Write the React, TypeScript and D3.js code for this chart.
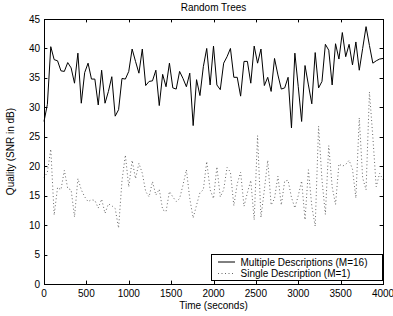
import * as d3 from "d3";

const WIDTH = 393;
const HEIGHT = 316;
const MARGIN = { top: 19, right: 10, bottom: 32, left: 44 };
const FONT = "'Liberation Sans', Arial, Helvetica, sans-serif";

// sample interval in seconds
const STEP = 40;

// Multiple Descriptions (M=16)
const multipleDescriptions = [
  27.6, 30.5, 40.3, 38.1, 37.9, 36.2, 36.1, 37.6, 36.7, 34.1,
  39.2, 30.7, 35.9, 37.5, 34.8, 34.8, 30.4, 36.3, 30.7, 32.7,
  35.2, 28.5, 29.6, 34.9, 34.8, 36.1, 39.9, 37.8, 35.8, 39.9,
  33.7, 34.4, 34.5, 36.3, 30.3, 35.6, 33.5, 37.5, 33.3, 33.1,
  36.1, 34.9, 33.5, 35.8, 26.9, 34.7, 32.0, 36.9, 40.0, 33.8,
  40.4, 33.8, 33.0, 37.5, 38.6, 40.0, 35.1, 35.1, 31.9, 37.8,
  37.8, 34.1, 40.4, 37.5, 39.9, 33.7, 35.1, 32.7, 38.3, 35.5,
  33.1, 33.3, 35.1, 26.5, 39.2, 33.5, 27.6, 37.1, 33.8, 30.6,
  39.3, 33.3, 34.4, 40.7, 39.7, 33.8, 40.8, 38.2, 42.7, 38.6,
  40.7, 37.2, 41.1, 36.3, 40.0, 43.7, 40.5, 37.5, 37.9, 38.2,
  38.3,
];

// Single Description (M=1)
const singleDescription = [
  18.0, 19.0, 22.9, 11.7, 16.4, 16.0, 19.3, 16.2, 16.0, 11.4,
  17.9, 16.0, 14.8, 14.0, 14.3, 14.2, 12.9, 14.4, 12.0, 13.6,
  13.3, 12.8, 9.5, 17.5, 21.9, 16.5, 21.0, 17.9, 20.5, 18.8,
  15.7, 14.8, 17.4, 15.1, 16.1, 12.6, 12.3, 15.7, 14.8, 14.0,
  14.5, 16.8, 19.4, 14.5, 11.2, 13.4, 15.5, 16.0, 20.8, 16.0,
  14.5, 19.9, 14.8, 16.0, 19.8, 19.0, 13.3, 17.0, 19.0, 13.2,
  15.5, 17.6, 10.9, 25.2, 11.3, 16.0, 21.0, 13.4, 14.5, 18.3,
  13.4, 17.5, 17.6, 14.7, 12.9, 15.0, 17.5, 10.9, 19.4, 13.2,
  9.8, 26.8, 17.7, 11.8, 23.5, 16.5, 13.5, 20.4, 20.0, 20.3,
  21.0, 19.5, 14.6, 28.2, 18.0, 16.0, 32.6, 25.0, 16.5, 18.8,
  17.7,
];

const xTicks = [0, 500, 1000, 1500, 2000, 2500, 3000, 3500, 4000];
const yTicks = [0, 5, 10, 15, 20, 25, 30, 35, 40, 45];
const seriesNames = ["Multiple Descriptions (M=16)", "Single Description (M=1)"];

const TICK = 3.4;
const DOT_COLOR = "#666";
const DOTS = "1,2.5";

export default function App() {
  const x0 = MARGIN.left;
  const x1 = WIDTH - MARGIN.right;
  const y0 = HEIGHT - MARGIN.bottom;
  const y1 = MARGIN.top;

  const xScale = d3.scaleLinear().domain([0, 4000]).range([x0, x1]);
  const yScale = d3.scaleLinear().domain([0, 45]).range([y0, y1]);

  const line = d3
    .line<number>()
    .x((_, i) => xScale(i * STEP))
    .y((d) => yScale(d));

  const legend = { x: 211, y: 254, w: 171, h: 26 };

  return (
    <div style={{ position: "absolute", left: 0, top: 0 }}>
      <svg width={WIDTH} height={HEIGHT} style={{ display: "block", background: "#fff" }} fontFamily={FONT}>
        <rect width={WIDTH} height={HEIGHT} fill="#fff" />

        {/* series */}
        <path d={line(singleDescription) as string} fill="none" stroke={DOT_COLOR} strokeWidth={1} strokeDasharray={DOTS} />
        <path d={line(multipleDescriptions) as string} fill="none" stroke="#000" strokeWidth={1} />

        {/* frame */}
        <rect x={x0 + 0.5} y={y1 + 0.5} width={x1 - x0} height={y0 - y1} fill="none" stroke="#000" strokeWidth={1} />

        {/* x ticks */}
        {xTicks.map((t) => {
          const px = Math.round(xScale(t)) + 0.5;
          return (
            <g key={"x" + t}>
              <line x1={px} x2={px} y1={y0} y2={y0 - TICK} stroke="#000" />
              <line x1={px} x2={px} y1={y1} y2={y1 + TICK} stroke="#000" />
              <text x={xScale(t)} y={y0 + 13} fontSize={10} textAnchor="middle">
                {t}
              </text>
            </g>
          );
        })}

        {/* y ticks */}
        {yTicks.map((t) => {
          const py = Math.round(yScale(t)) + 0.5;
          return (
            <g key={"y" + t}>
              <line x1={x0} x2={x0 + TICK} y1={py} y2={py} stroke="#000" />
              <line x1={x1} x2={x1 - TICK} y1={py} y2={py} stroke="#000" />
              <text x={x0 - 4} y={yScale(t) + 3.5} fontSize={10} textAnchor="end">
                {t}
              </text>
            </g>
          );
        })}

        {/* labels */}
        <text x={(x0 + x1) / 2} y={10.5} fontSize={10} textAnchor="middle">
          Random Trees
        </text>
        <text x={(x0 + x1) / 2} y={309} fontSize={10} textAnchor="middle">
          Time (seconds)
        </text>
        <text
          transform={`translate(13.5, ${(y0 + y1) / 2}) rotate(-90)`}
          fontSize={10}
          textAnchor="middle"
        >
          Quality (SNR in dB)
        </text>

        {/* legend */}
        <rect x={legend.x + 0.5} y={legend.y + 0.5} width={legend.w} height={legend.h} fill="#fff" stroke="#000" strokeWidth={1} />
        <line x1={218} x2={235} y1={262} y2={262} stroke="#000" />
        <line x1={218} x2={235} y1={273.5} y2={273.5} stroke={DOT_COLOR} strokeDasharray={DOTS} />
        <text x={240.5} y={265.5} fontSize={10}>
          {seriesNames[0]}
        </text>
        <text x={240.5} y={277} fontSize={10}>
          {seriesNames[1]}
        </text>
      </svg>
    </div>
  );
}
